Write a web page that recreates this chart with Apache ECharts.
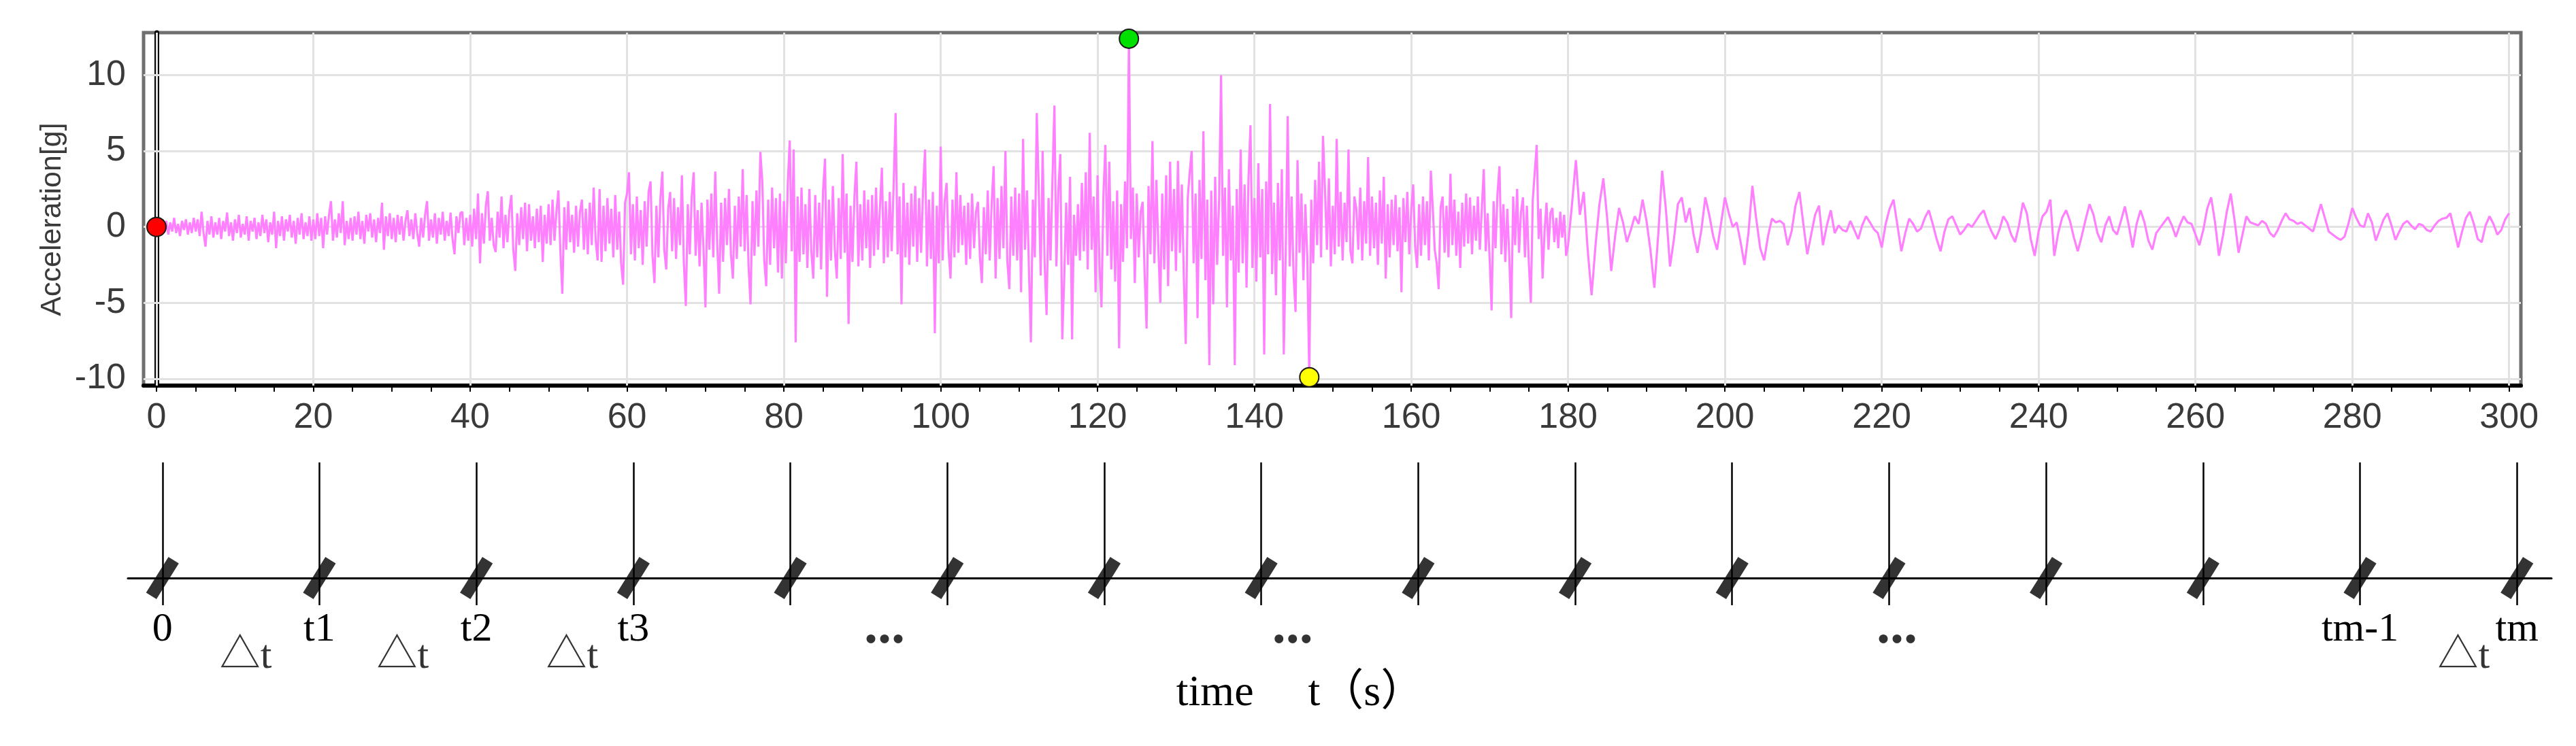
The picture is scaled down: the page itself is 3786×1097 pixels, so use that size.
<!DOCTYPE html>
<html lang="en">

<head>
    <meta charset="UTF-8">
    <title>Acceleration time history</title>
    <script type="text/javascript" src="https://cdn.jsdelivr.net/npm/echarts@6/dist/echarts.min.js"></script>
    <style>
        html, body { margin: 0; padding: 0; background: #fff; }
    </style>
</head>

<body>
    <div id="main" style="width: 3786px;height:1097px;"></div>
    <script>
        // acceleration record [g], one value every 0.25 s from 0 s
        var accelEarly = [
            0, 0.3, -0.4, 0.5, -0.2, 0.4, -0.5, 0.3, -0.3, 0.6, -0.4, 0.2, -0.6, 0.4, -0.2, 0.5, -0.5, 0.3, -0.4, 0.6,
            -0.3, 0.5, -0.6, 1.0, -0.4, -1.3, 0.4, -0.5, 0.7, -0.7, 0.3, -0.5, 0.6, -0.8, 0.4, -0.3, 0.95, -0.6, 0.3, -0.9,
            0.5, -0.4, 0.8, -0.7, 0.2, -0.5, 0.7, -0.9, 0.4, -0.3, 0.6, -0.8, 0.3, -0.6, 0.8, -0.4, 0.5, -1.0, 0.3, -0.5,
            1.0, -1.4, 0.4, -0.6, 0.7, -0.9, 0.5, -0.3, 0.8, -0.7, 0.4, -1.1, 0.6, -0.5, 0.9, -0.8, 0.3, -0.6, 0.7, -0.9,
            0.5, -0.8, 0.9, -0.6, 0.6, -1.4, 0.7, -0.5, 0.8, 1.7, -0.9, 0.5, -0.7, 0.9, -0.4, 1.7, -1.2, 0.4, -0.8, 0.6,
            -0.9, 0.7, -0.5, 1.0, -0.8, 0.4, -1.1, 0.8, -0.3, 0.9, -0.7, 0.5, -1.0, 0.6, -0.4, 1.6, -1.5, 0.7, -0.6, 0.9,
            -0.8, 0.6, -1.0, 0.8, -0.5, 0.7, -0.9, 0.4, 1.1, -0.6, 0.5, -0.8, 0.9, -0.4, -1.3, 0.6, -0.7, 0.8, 1.7, -0.9,
            0.5, -0.7, 0.9, -1.1, 0.6, -0.5, 1.0, -0.9, 0.4, -0.6, 0.95, -0.8, -1.8, 0.7, -0.4, 0.9, 1.0, -1.2, 0.6, -0.9,
            0.8, -1.3, 1.2, -0.8, 2.2, -2.4, 0.9, -1.1, 1.4, 2.35, -0.9, 0.6, -1.2, -1.65, 1.0, -0.7, 2.0, -1.4, 0.8, -1.0,
            1.1, 2.1, -1.5, -2.9, 0.9, -1.2, 1.3, -0.8, 1.6, -1.6, 1.5, -0.9, 0.7, -1.4, 1.2, -1.0, 1.4, -2.3, 0.8, -1.1,
            1.5, -1.2, 1.8, -0.9, 1.0, 2.4, -1.6, -4.4, 1.3, -1.5, 1.7, -1.0, 0.8, -1.7, 1.4, -1.3, 1.0, 1.8, -1.5, 1.2,
            -1.8, 1.6, -1.2, 2.6, -0.9, -2.2, 2.5, -2.3, 1.4, -1.6, 1.9, -1.1, 1.2, -2.0, 2.1, -1.5, 1.0, -2.4, -3.8, 1.6,
            2.2, 3.6, -1.8, 1.5, -2.2, 2.0, -1.4, 1.1, -2.5, 1.7, -1.3, 2.3, 3.0, -1.9, -3.7, 1.4, -2.0, 1.8, 3.65, -1.5,
            -2.8, 1.2, 2.3, -1.6, 1.9, -2.1, 1.3, -1.2, 3.4, -2.4, -5.2, 1.5, -1.8, 2.0, 3.6, -1.9, 1.1, -2.6, 1.6, -1.4,
            -5.3, 1.8, -1.5, 2.2, -2.0, 3.65, -1.1, -4.4, 1.6, -2.3, 1.9, -1.2, 2.5, -1.8, -3.4, 1.4, -2.1, 2.0, -1.3, 3.8,
            -1.6, 2.1, -2.6, -5.1, 1.7, -1.9, 2.4, -1.3, 4.95, 3.0, -2.2, -3.9, 1.8, -2.5, 2.6, -1.4, 1.9, -3.0, 2.2, -3.4,
            1.7, -2.4, 2.9, 5.7, -1.6, 5.1, -7.6, 2.0, -2.3, 2.6, -1.8, 1.5, -2.7, 2.5, -1.6, -3.4, 2.1, -2.0, 1.6, -2.8,
            2.4, 4.5, -4.6, 1.8, -2.2, 2.7, -1.5, -3.4, 1.9, -2.1, 4.8, -1.7, 2.2, -6.4, 1.4, -2.3, 2.0, 4.3, -2.6, 1.5,
            -2.2, 2.4, -1.4, 1.8, -2.7, 2.1, -1.9, 2.6, -1.5, 1.3, 3.9, -2.4, 1.7, -2.0, 2.3, -1.6, 2.8, 7.5, -1.8, 2.0,
            -5.1, 2.9, -2.0, 1.6, -2.5, 2.2, -1.3, 2.7, -2.3, 1.9, -1.7, 2.4, 5.1, -2.6, 1.8, -2.1, 2.3, -7.0, 1.4, -2.4,
            5.3, -2.2, 1.7, 2.9, -1.5, -3.4, 1.8, -2.0, 3.6, -1.7, 2.1, -1.2, 1.4, -2.5, 1.6, -2.1, 2.2, -1.4, 1.0, 1.65,
            -2.0, -3.7, 1.3, -1.8, 2.4, -2.2, 1.6, 4.0, -3.4, 1.9, -2.1, 2.7, -1.4, 5.0, -2.3, -4.1, 2.0, -1.9, 2.6, -2.2,
            2.2, -4.3, 5.8, -1.5, 2.4, -2.8, -7.6, 1.8, -2.0, 7.5, 2.6, -3.2, 5.0, -2.4, -5.8, 1.9, -2.2, 3.1, 8.0, -2.6,
            2.4, 4.8, -7.4, -3.4, 1.6, -2.5, 3.3, -7.4, 0.8, -1.9, 1.5, -2.2, 2.9, -1.6, 3.6, -2.8, 6.2, -1.5, 2.0, -4.3,
            3.4, -2.6, -5.3, 2.1, 5.4, -1.9, 4.3, -2.8, 1.7, -3.6, 2.4, -8.0, 1.5, -2.3, 3.0, -1.4, 12.4, -0.8, 2.6, -3.7,
            2.2, -2.0, 1.0, 1.65, -3.0, -6.7, 2.7, -1.8, 5.65, -2.4, 3.1, -1.3, -5.0, 2.2, -2.8, 3.4, -3.9, 4.3, -1.6, 2.5,
            -2.9, 4.35, -1.7, 2.8, -3.3, -7.7, 1.9, 3.6, 5.0, -2.4, 2.2, -6.0, 3.1, -2.1, 6.3, -3.5, 1.8, -9.1, 2.4, -5.1,
            3.3, -2.5, 1.8, 10.0, -1.9, 2.6, -5.3, 3.8, -2.2, 1.4, -9.1, 2.5, -3.0, 5.1, -2.4, 2.8, -4.0, 3.2, 6.7, -2.7,
            1.9, -3.6, 4.2, -2.0, 2.5, -8.4, 3.0, -1.8, 8.1, -3.1, 1.6, -4.5, 2.9, -2.2, 3.8, -8.4, -1.5, 7.3, -2.6, 2.0,
            -3.2, -5.6, 4.4, -1.7, 2.2, -3.5, 1.5, -2.1, -9.9, 1.8, -2.4, 3.1, -1.2, 4.3, -2.0, 6.0, 2.5, -1.5, 3.2, -2.6,
            1.4, -1.8, 5.8, -1.3, 2.3, -2.2, 1.6, -1.0, 5.1, -1.6, -2.4, 2.0, 1.2, -1.5, 2.6, -2.2, 1.7, -1.1, 4.6, -1.9,
            2.0, -1.4, 1.6, -2.5, 2.4, -1.1, 3.3, -3.4, 1.5, -2.0, 1.8, -1.2, 2.1, -1.6, 1.3, -4.3, 1.9, -1.0, 2.3, -1.8,
            1.1, 2.8, -1.3, -2.7, 1.5, -1.9, 2.0, -1.2, 1.7, -2.2, 3.7, 1.2, -1.5, -2.4, -4.1, 1.3, 2.0, -1.7, 1.4, -2.0,
            3.5, -1.2, 1.8, -1.9, 1.0, -2.7, 1.6, -1.3, 2.2, -1.1, 1.95, -1.8, 1.4, -0.9, 2.0, -1.5, 1.2, 3.8, -1.6, 0.9,
            -2.1, -5.5, 1.7, -1.4, 2.2, 4.0, -1.8, 1.5, -2.3, 1.2, -1.9, -6.0, 2.0, -1.2, 2.5, -1.7, 1.0, 1.95, -2.0, 1.4,
            -2.4, -5.0, 1.8, 3.6, 5.4, -0.8, 1.2, -3.4, -0.3, 1.6, -1.5, 0.9, 1.25, -1.0, 0.6, -1.4, 1.0, -0.7, 0.8, -1.9
        ];
        // acceleration record [g], one value every 0.5 s from 180 s
        var accelLate = [
            -1.2, 1.5, 4.4, 0.8, 2.3, -1.5, -4.5, -1.2, 1.5, 3.2, 0.5, -2.9, -0.6, 1.25, 0.3, -1.0, -0.2, 0.7, 0.2, 1.8,
            0.4, -1.5, -4.0, -0.5, 3.7, 1.0, -2.6, -0.8, 1.5, 1.95, 0.3, 1.25, -0.5, -1.7, -0.2, 1.95, 0.8, -0.6, -1.5, 0.2,
            1.95, 0.9, 0.0, 0.3, -1.0, -2.5, -0.4, 2.7, 0.5, -1.4, -2.2, -0.6, 0.55, 0.3, 0.4, 0.2, -1.2, -0.3, 1.4, 2.3,
            0.2, -1.8, -0.5, 0.8, 1.4, -1.2, 0.1, 1.1, -0.4, 0.1, -0.2, -0.3, 0.4, -0.2, -0.8, 0.1, 0.7, 0.3, -0.15, -0.4,
            -1.35, 0.2, 1.2, 1.8, 0.1, -1.6, -0.4, 0.55, 0.2, -0.3, -0.1, 0.6, 1.1, 0.2, -0.8, -1.6, -0.3, 0.5, 0.7, 0.1,
            -0.5, -0.2, 0.2, 0.0, 0.4, 0.8, 1.1, 0.3, -0.3, -0.8, -0.2, 0.7, 0.3, -0.5, -1.0, 0.1, 1.6, 0.9, -0.8, -1.9,
            -0.3, 0.7, 1.0, 1.8, -1.9, -0.4, 0.6, 1.1, 0.4, -0.7, -1.6, -0.6, 0.5, 1.5, 0.8, -0.4, -1.0, 0.1, 0.7, -0.2,
            -0.5, 0.4, 1.35, 0.1, -1.35, 0.2, 1.1, 0.3, -0.9, -1.5, -0.4, -0.05, 0.3, 0.65, 0.1, -0.65, 0.1, 0.7, 0.3, 0.2,
            -0.5, -1.2, -0.2, 1.2, 1.95, 0.3, -1.9, -0.6, 1.0, 2.2, 0.4, -1.7, -0.5, 0.7, 0.3, 0.2, 0.1, 0.4, 0.2, -0.4,
            -0.65, -0.2, 0.4, 0.9, 0.5, 0.4, 0.2, 0.3, 0.1, -0.1, -0.3, 0.6, 1.5, 0.6, -0.3, -0.5, -0.7, -0.85, -0.65, 0.2,
            1.25, 0.6, 0.1, 0.0, 0.9, 0.3, -0.9, -0.2, 0.5, 0.9, 0.1, -0.85, -0.3, 0.2, 0.4, 0.1, -0.15, 0.2, 0.1, -0.2,
            -0.3, 0.1, 0.4, 0.55, 0.6, 0.9, -0.2, -1.35, -0.3, 0.6, 1.0, 0.2, -0.8, -1.0, 0.1, 0.7, 0.2, -0.5, -0.2, 0.5,
            0.9
        ];
        var timeLabels = [0, 20, 40, 60, 80, 100, 120, 140, 160, 180, 200, 220, 240, 260, 280, 300];
        var accelLabels = [-10, -5, 0, 5, 10];

        // sketch of the time steps under the record
        var steps = [0, 1, 2, 3, 4, 5, 6, 7, 8, 9, 10, 11, 12, 13, 14, 15];
        var stepNames = ['0', 't1', 't2', 't3', '', '', '', '', '', '', '', '', '', '', 'tm-1', 'tm'];
        var gapCentres = [0.53, 1.53, 2.61, 14.66];
        var gapName = '△t';
        var dotsAt = [4.6, 7.2, 11.05];

        var FONT_AXIS = "'Liberation Sans', Arial, sans-serif";
        var FONT_SKETCH = "'Liberation Serif', 'Noto Sans CJK SC', serif";

        var signal = [];
        accelEarly.forEach(function (v, i) { signal.push([i * 0.25, v]); });
        accelLate.forEach(function (v, i) { signal.push([180 + i * 0.5, v]); });

        var minorTicks = [];
        for (var s = 0; s <= 300; s += 5) minorTicks.push(s);

        var gridLines = timeLabels.map(function (v) { return { xAxis: v }; })
            .concat(accelLabels.map(function (v) { return { yAxis: v }; }));

        var myChart = echarts.init(document.getElementById('main'));
        myChart.setOption({
            animation: false,
            backgroundColor: '#ffffff',
            grid: [
                {
                    left: 211, right: 81, top: 48, bottom: 530, containLabel: false, outerBoundsMode: 'none',
                    show: true, borderColor: '#6f6f6f', borderWidth: 5
                },
                // the sketch: its time line is the bottom edge of this grid
                { left: 188, right: 36, top: 680, bottom: 247, containLabel: false, outerBoundsMode: 'none' }
            ],
            xAxis: [
                {
                    type: 'value', gridIndex: 0, min: -1.65, max: 301.5,
                    axisLine: { onZero: false, lineStyle: { color: '#000', width: 6 } },
                    axisTick: { customValues: minorTicks, length: 9, lineStyle: { color: '#000', width: 2 } },
                    axisLabel: { customValues: timeLabels, margin: 22, color: '#3a3a3a', fontFamily: FONT_AXIS, fontSize: 52 },
                    splitLine: { show: false }
                },
                {
                    type: 'value', gridIndex: 1, min: -0.22, max: 15.22,
                    name: 'time     t（s）', nameLocation: 'middle', nameGap: 138,
                    nameTextStyle: { color: '#000', fontFamily: FONT_SKETCH, fontSize: 64, padding: [0, 116, 0, 0] },
                    axisLine: { onZero: false, lineStyle: { color: '#000', width: 3 } },
                    axisTick: { show: true, customValues: steps, length: 40, lineStyle: { color: '#000', width: 2.5 } },
                    axisLabel: {
                        customValues: steps, margin: 46, color: '#000', fontFamily: FONT_SKETCH, fontSize: 60,
                        formatter: function (v) { return stepNames[v] || ''; }
                    },
                    splitLine: { show: false }
                }
            ],
            yAxis: [
                {
                    type: 'value', gridIndex: 0, min: -10.45, max: 12.8,
                    name: 'Acceleration[g]', nameLocation: 'middle', nameGap: 112,
                    nameTextStyle: { color: '#3a3a3a', fontFamily: FONT_AXIS, fontSize: 43, padding: [0, 30, 0, 0] },
                    axisLine: { show: true, lineStyle: { color: '#000', width: 7 } },
                    axisTick: { show: true, customValues: accelLabels, length: 8, lineStyle: { color: '#333', width: 2 } },
                    axisLabel: { customValues: accelLabels, margin: 26, color: '#3a3a3a', fontFamily: FONT_AXIS, fontSize: 52 },
                    splitLine: { show: false }
                },
                { type: 'value', gridIndex: 1, min: 0, max: 1.7, show: false }
            ],
            series: [
                {
                    type: 'line', name: 'Acceleration', xAxisIndex: 0, yAxisIndex: 0,
                    data: signal, showSymbol: false, symbol: 'none', z: 3,
                    lineStyle: { color: '#ff80ff', width: 3.2 },
                    itemStyle: { color: '#ff80ff' },
                    markLine: {
                        z: 1, silent: true, symbol: 'none', label: { show: false },
                        lineStyle: { color: '#e2e2e2', width: 3, type: 'solid' },
                        emphasis: { disabled: true },
                        data: gridLines
                    },
                    markPoint: {
                        symbol: 'circle', symbolSize: 28, silent: true, label: { show: false },
                        data: [
                            { type: 'max', valueDim: 'y', itemStyle: { color: '#00e000', borderColor: '#1a1a1a', borderWidth: 2 } },
                            { type: 'min', valueDim: 'y', itemStyle: { color: '#ffff00', borderColor: '#1a1a1a', borderWidth: 2 } },
                            { coord: [signal[0][0], signal[0][1]], itemStyle: { color: '#ff0000', borderColor: '#1a1a1a', borderWidth: 2 } }
                        ]
                    }
                },
                {
                    type: 'scatter', name: 'steps', xAxisIndex: 1, yAxisIndex: 1, silent: true, z: 3, clip: false,
                    data: steps.map(function (s) { return [s, 0]; }),
                    symbol: 'rect', symbolSize: [62, 18], symbolRotate: 58,
                    itemStyle: { color: '#000' },
                    markLine: {
                        silent: true, symbol: 'none', label: { show: false },
                        lineStyle: { color: '#000', width: 2.5, type: 'solid' },
                        emphasis: { disabled: true },
                        data: steps.map(function (s) { return { xAxis: s }; })
                    }
                },
                {
                    type: 'scatter', name: 'gaps', xAxisIndex: 1, yAxisIndex: 1, silent: true, clip: false,
                    data: gapCentres.map(function (g) { return [g, -1.16]; }),
                    symbolSize: 1, itemStyle: { color: 'rgba(0,0,0,0)' },
                    label: { show: true, position: 'inside', formatter: gapName, color: '#000', fontFamily: FONT_SKETCH, fontSize: 60 }
                },
                {
                    type: 'scatter', name: 'dots', xAxisIndex: 1, yAxisIndex: 1, silent: true, clip: false,
                    data: dotsAt.map(function (d) { return [d, -0.74]; }),
                    symbolSize: 1, itemStyle: { color: 'rgba(0,0,0,0)' },
                    label: { show: true, position: 'inside', formatter: '...', color: '#000', fontFamily: FONT_SKETCH, fontSize: 80, fontWeight: 'bold' }
                }
            ]
        });
    </script>
</body>

</html>
